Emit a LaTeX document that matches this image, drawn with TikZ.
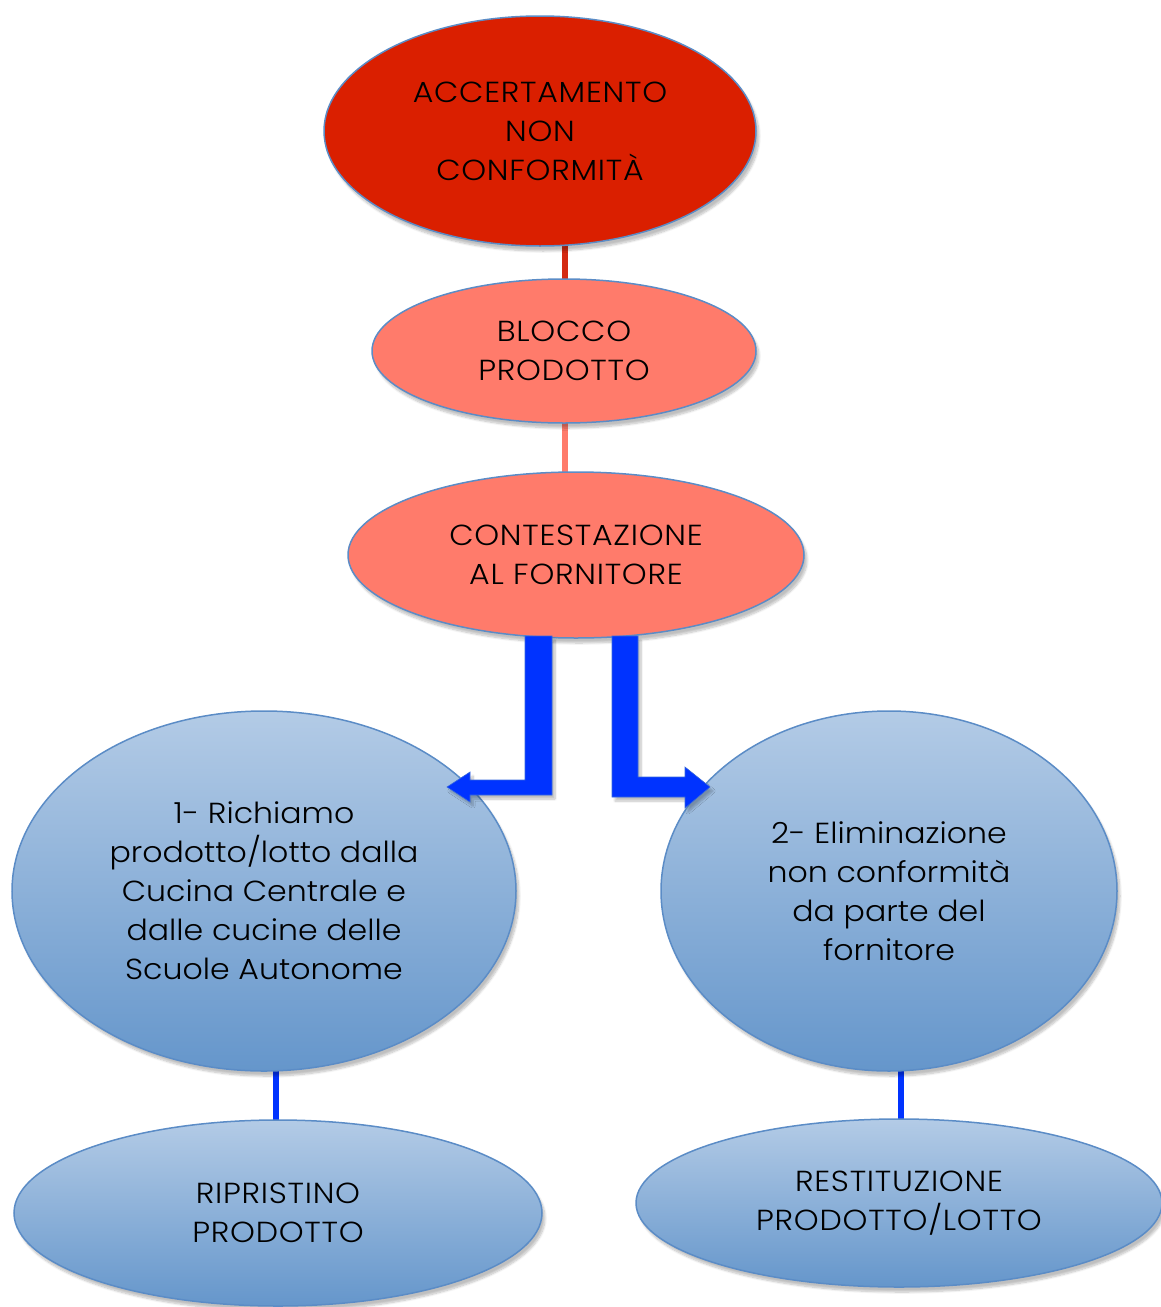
\documentclass[tikz,border=0pt]{standalone}
\usepackage{fontspec}
\setmainfont{Poppins}[UprightFont=* Light, FakeStretch=1.09]
\usetikzlibrary{shapes.geometric,shadows.blur}
\definecolor{topred}{HTML}{DA1F00}
\definecolor{salmon}{HTML}{FF7B6B}
\definecolor{edgeblue}{HTML}{5B8CC6}
\definecolor{lightblue}{HTML}{B3CBE6}
\definecolor{darkblue}{HTML}{6596CB}
\definecolor{arrowblue}{HTML}{0033FF}
\definecolor{redline}{HTML}{D42A12}
\tikzset{
  bubble/.style={ellipse, draw=edgeblue, line width=1.5pt, inner sep=0pt, align=center,
    font=\fontsize{29}{39}\selectfont, text=black,
    blur shadow={shadow xshift=3pt, shadow yshift=-5pt, shadow blur steps=8, shadow opacity=25}},
  caps/.style={font=\fontsize{29}{39}\selectfont\addfontfeature{LetterSpace=2.5}},
  redbubble/.style={bubble, caps, fill=topred},
  pinkbubble/.style={bubble, caps, fill=salmon},
  bluebubble/.style={bubble, top color=lightblue, bottom color=darkblue},
  link/.style={line width=5.5pt},
  bigarrow/.style={fill=arrowblue, draw=edgeblue!60!arrowblue, line width=0.6pt,
    blur shadow={shadow xshift=3pt, shadow yshift=-4pt, shadow blur steps=6, shadow opacity=25}}
}
\begin{document}
\begin{tikzpicture}[x=1pt,y=-1pt]
\useasboundingbox (0,0) rectangle (1161,1307);
% connectors behind nodes
\draw[link, redline] (565,240) -- (565,285);
\draw[link, salmon] (565,420) -- (565,476);
\draw[link, arrowblue] (276,1065) -- (276,1124);
\draw[link, arrowblue] (901,1065) -- (901,1123);

\node[redbubble, minimum width=432pt, minimum height=230pt] (acc) at (540,131) {ACCERTAMENTO\\NON\\CONFORMITÀ};
\node[pinkbubble, minimum width=384pt, minimum height=144pt] (blo) at (564,351) {BLOCCO\\PRODOTTO};
\node[pinkbubble, minimum width=456pt, minimum height=166pt] (con) at (576,555) {CONTESTAZIONE\\AL FORNITORE};

\node[bluebubble, minimum width=504pt, minimum height=360pt] (ric) at (264,891) {1- Richiamo\\prodotto/lotto dalla\\Cucina Centrale e\\dalle cucine delle\\Scuole Autonome};
\node[bluebubble, minimum width=456pt, minimum height=360pt] (eli) at (889,891) {2- Eliminazione\\non conformità\\da parte del\\fornitore};

\node[bluebubble, caps, minimum width=528pt, minimum height=186pt] (rip) at (278,1213) {RIPRISTINO\\PRODOTTO};
\node[bluebubble, caps, minimum width=526pt, minimum height=168pt] (res) at (899,1203) {RESTITUZIONE\\PRODOTTO/LOTTO};

% big bent arrows from CONTESTAZIONE
\draw[bigarrow] (525,636) -- (552,636) -- (552,795) -- (470,795) -- (470,802) -- (447,787)
  -- (470,772) -- (470,780) -- (525,780) -- cycle;
\draw[bigarrow] (612,636) -- (638,636) -- (638,777) -- (685,777) -- (685,767) -- (710,787)
  -- (685,808) -- (685,797) -- (612,797) -- cycle;
\end{tikzpicture}
\end{document}
